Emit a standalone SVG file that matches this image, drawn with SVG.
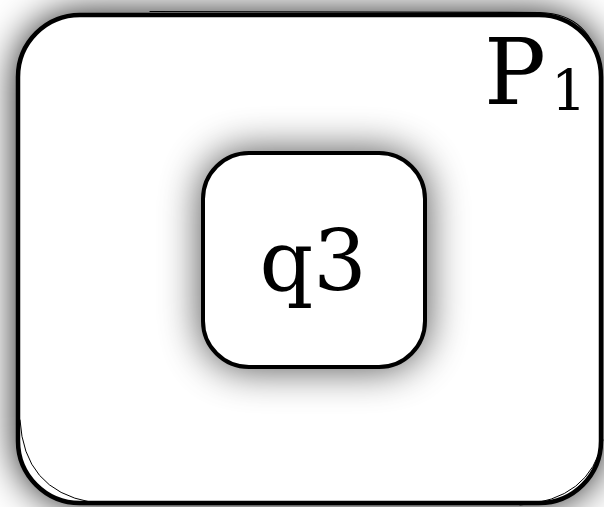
<svg xmlns="http://www.w3.org/2000/svg" width="604" height="507" viewBox="0 0 604 507">
<defs>
<filter id="sh" x="-20%" y="-20%" width="140%" height="140%">
<feGaussianBlur in="SourceAlpha" stdDeviation="20"/>
<feComponentTransfer><feFuncA type="linear" slope="1"/></feComponentTransfer>
<feMerge><feMergeNode/><feMergeNode in="SourceGraphic"/></feMerge>
</filter>
<filter id="sh2" x="-40%" y="-40%" width="180%" height="180%">
<feGaussianBlur in="SourceAlpha" stdDeviation="20"/>
<feComponentTransfer><feFuncA type="linear" slope="0.7"/></feComponentTransfer>
<feMerge><feMergeNode/><feMergeNode in="SourceGraphic"/></feMerge>
</filter>
<style>
.txt{font-family:"DejaVu Serif","Liberation Serif",serif;fill:#000}
.sk{fill:none;stroke:#000;stroke-linecap:round}
</style>
</defs>
<rect width="604" height="507" fill="#fff"/>
<g id="P1">
<rect x="18" y="15" width="583" height="488" rx="62" fill="#fff" filter="url(#sh)"/>
<rect class="sk" x="18" y="15" width="583" height="488" rx="62" stroke-width="4.5"/>
<path class="sk" stroke-width="1.2" d="M150 11.5 L540 12.5 Q592 14 601 70"/>
<path class="sk" stroke-width="1" d="M20 420 Q24 490 90 502"/>
<path class="sk" stroke-width="1" d="M520 505 Q590 500 603 440"/>
<text class="txt" x="484" y="104" font-size="92">P</text>
<text class="txt" x="551" y="110" font-size="56">1</text>
</g>
<g id="q3">
<rect x="203" y="153" width="222" height="214" rx="46" fill="#fff" stroke="#000" stroke-width="4" filter="url(#sh2)"/>
<text class="txt" x="313" y="290" font-size="84" text-anchor="middle">q3</text>
</g>
<g id="connectors"/>
</svg>
